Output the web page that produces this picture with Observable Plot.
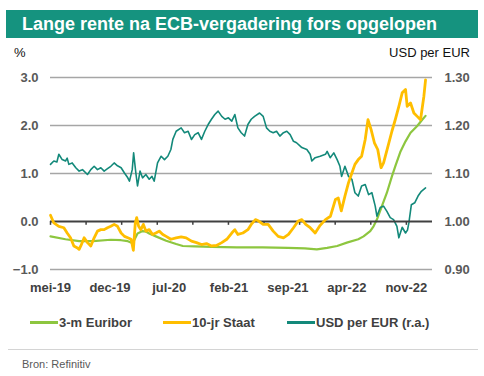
<!DOCTYPE html>
<html>
<head>
<meta charset="utf-8">
<script src="https://cdn.jsdelivr.net/npm/d3@7"></script>
<script src="https://cdn.jsdelivr.net/npm/@observablehq/plot@0.6"></script>
<style>
  html, body { margin: 0; padding: 0; background: #fff; }
  body { width: 484px; height: 376px; position: relative; overflow: hidden;
         font-family: "Liberation Sans", Arial, sans-serif; }
  #title { position: absolute; left: 6px; top: 10px; width: 472px; height: 28px;
           background: #15937f; color: #fff; font-weight: bold; font-size: 18px;
           line-height: 28px; box-sizing: border-box; padding-left: 16px; }
  .unit { position: absolute; top: 45px; font-size: 13px; color: #111; }
  #chart { position: absolute; left: 0; top: 60px; }
  #legend { position: absolute; top: 314px; left: 0; width: 484px; height: 18px; }
  .li { position: absolute; top: 0; font-size: 13px; font-weight: bold; color: #404040;
        line-height: 18px; white-space: nowrap; }
  .sw { display: inline-block; width: 28px; height: 3px; vertical-align: middle; margin-right: 1px; position: relative; top: -1px; }
  #sep { position: absolute; left: 8px; top: 349px; width: 470px; height: 1px; background: #d4d4d4; }
  #source { position: absolute; left: 22px; top: 358px; font-size: 11px; color: #595959; }
</style>
</head>
<body>
<div id="title">Lange rente na ECB-vergadering fors opgelopen</div>
<div class="unit" style="left:14px">%</div>
<div class="unit" style="right:14px">USD per EUR</div>
<div id="chart"></div>
<div id="legend"></div>
<div id="sep"></div>
<div id="source">Bron: Refinitiv</div>
<script>
// ---- data ----
const seriesNames = ["3-m Euribor", "10-jr Staat", "USD per EUR (r.a.)"];
const seriesColors = ["#8dc63f", "#ffbe00", "#13897a"];

const euribor = [
  ["2019-05-01",-0.31],["2019-06-24",-0.37],["2019-08-12",-0.41],["2019-10-01",-0.41],
  ["2019-12-04",-0.38],["2020-01-10",-0.39],["2020-02-03",-0.41],["2020-02-21",-0.45],
  ["2020-03-09",-0.25],["2020-03-27",-0.20],["2020-04-08",-0.21],["2020-04-20",-0.25],
  ["2020-05-14",-0.31],["2020-06-20",-0.40],["2020-07-26",-0.47],["2020-08-19",-0.51],
  ["2020-10-01",-0.52],["2020-12-01",-0.53],["2021-03-01",-0.54],["2021-06-01",-0.54],
  ["2021-09-01",-0.55],["2021-11-01",-0.56],["2021-12-14",-0.58],["2022-01-20",-0.55],
  ["2022-02-25",-0.51],["2022-04-01",-0.44],["2022-05-12",-0.37],["2022-05-31",-0.31],
  ["2022-06-24",-0.20],["2022-07-06",-0.10],["2022-07-18",0.04],["2022-08-05",0.32],
  ["2022-08-23",0.60],["2022-09-10",0.94],["2022-09-22",1.15],["2022-10-11",1.46],
  ["2022-10-29",1.67],["2022-11-16",1.85],["2022-12-10",1.99],["2022-12-28",2.12],
  ["2023-01-09",2.20]
];

const staat = [
  ["2019-05-01",0.13],["2019-05-13",-0.03],["2019-05-31",-0.10],["2019-06-18",-0.13],
  ["2019-06-30",-0.24],["2019-07-12",-0.34],["2019-07-24",-0.51],["2019-08-06",-0.55],
  ["2019-08-12",-0.58],["2019-08-18",-0.51],["2019-08-30",-0.34],["2019-09-11",-0.44],
  ["2019-09-23",-0.51],["2019-10-05",-0.34],["2019-10-17",-0.20],["2019-10-29",-0.17],
  ["2019-11-10",-0.17],["2019-11-22",-0.13],["2019-12-04",-0.10],["2019-12-16",-0.06],
  ["2019-12-28",-0.10],["2020-01-10",-0.24],["2020-01-22",-0.31],["2020-02-03",-0.34],
  ["2020-02-15",-0.37],["2020-02-23",-0.60],["2020-03-01",-0.03],["2020-03-06",0.08],
  ["2020-03-13",-0.10],["2020-03-21",-0.17],["2020-03-30",-0.06],["2020-04-08",-0.20],
  ["2020-04-20",-0.17],["2020-05-02",-0.27],["2020-05-14",-0.24],["2020-05-26",-0.20],
  ["2020-06-08",-0.27],["2020-06-20",-0.31],["2020-07-07",-0.37],["2020-07-26",-0.34],
  ["2020-08-13",-0.32],["2020-08-31",-0.34],["2020-09-19",-0.41],["2020-10-07",-0.44],
  ["2020-10-25",-0.48],["2020-11-12",-0.46],["2020-11-30",-0.51],["2020-12-18",-0.50],
  ["2021-01-06",-0.44],["2021-01-24",-0.37],["2021-02-11",-0.24],["2021-02-22",-0.17],
  ["2021-03-05",-0.27],["2021-03-23",-0.24],["2021-04-10",-0.17],["2021-04-22",-0.06],
  ["2021-05-07",0.04],["2021-05-19",0.01],["2021-06-04",-0.06],["2021-06-22",-0.06],
  ["2021-07-10",-0.20],["2021-07-28",-0.31],["2021-08-16",-0.34],["2021-09-03",-0.27],
  ["2021-09-21",-0.13],["2021-10-08",0.01],["2021-10-21",0.04],["2021-11-04",-0.06],
  ["2021-11-20",-0.13],["2021-12-08",-0.24],["2021-12-26",-0.08],["2022-01-14",0.04],
  ["2022-02-01",0.11],["2022-02-19",0.46],["2022-03-01",0.49],["2022-03-12",0.22],
  ["2022-03-25",0.53],["2022-04-07",0.81],["2022-04-19",1.01],["2022-04-30",1.19],
  ["2022-05-12",1.29],["2022-05-24",1.36],["2022-06-06",1.71],["2022-06-16",2.12],
  ["2022-06-27",1.92],["2022-07-09",1.64],["2022-07-21",1.50],["2022-08-02",1.12],
  ["2022-08-11",1.22],["2022-08-27",1.57],["2022-09-10",1.88],["2022-09-22",2.12],
  ["2022-10-05",2.40],["2022-10-17",2.68],["2022-10-29",2.75],["2022-11-04",2.40],
  ["2022-11-16",2.47],["2022-11-28",2.26],["2022-12-10",2.19],["2022-12-22",2.12],
  ["2023-01-03",2.61],["2023-01-09",2.95]
];

const usd = [
  ["2019-05-01",1.119],["2019-05-13",1.126],["2019-05-24",1.124],["2019-05-31",1.140],
  ["2019-06-12",1.129],["2019-06-24",1.126],["2019-06-30",1.132],["2019-07-06",1.119],
  ["2019-07-18",1.122],["2019-07-31",1.112],["2019-08-12",1.105],["2019-08-24",1.108],
  ["2019-09-11",1.098],["2019-09-23",1.108],["2019-10-05",1.115],["2019-10-17",1.108],
  ["2019-10-29",1.112],["2019-11-10",1.105],["2019-11-22",1.110],["2019-12-04",1.115],
  ["2019-12-16",1.122],["2019-12-28",1.116],["2020-01-10",1.112],["2020-01-22",1.101],
  ["2020-02-03",1.091],["2020-02-09",1.084],["2020-02-19",1.108],["2020-02-24",1.143],
  ["2020-03-03",1.101],["2020-03-09",1.074],["2020-03-18",1.105],["2020-03-27",1.091],
  ["2020-04-08",1.098],["2020-04-20",1.088],["2020-04-30",1.094],["2020-05-08",1.084],
  ["2020-05-20",1.122],["2020-06-02",1.136],["2020-06-14",1.129],["2020-06-26",1.136],
  ["2020-07-07",1.150],["2020-07-14",1.171],["2020-07-26",1.188],["2020-08-13",1.195],
  ["2020-08-25",1.185],["2020-09-07",1.188],["2020-09-19",1.171],["2020-10-01",1.181],
  ["2020-10-13",1.185],["2020-10-25",1.171],["2020-11-06",1.188],["2020-11-18",1.202],
  ["2020-11-30",1.213],["2020-12-12",1.223],["2020-12-24",1.230],["2021-01-06",1.219],
  ["2021-01-18",1.213],["2021-01-30",1.216],["2021-02-11",1.209],["2021-02-22",1.223],
  ["2021-03-05",1.195],["2021-03-17",1.185],["2021-03-29",1.178],["2021-04-10",1.202],
  ["2021-04-22",1.213],["2021-05-04",1.219],["2021-05-22",1.226],["2021-06-04",1.219],
  ["2021-06-16",1.195],["2021-06-28",1.188],["2021-07-10",1.185],["2021-07-22",1.188],
  ["2021-08-03",1.178],["2021-08-16",1.185],["2021-08-28",1.188],["2021-09-09",1.181],
  ["2021-09-21",1.167],["2021-10-02",1.164],["2021-10-21",1.154],["2021-11-08",1.150],
  ["2021-11-20",1.140],["2021-11-26",1.126],["2021-12-08",1.133],["2021-12-26",1.136],
  ["2022-01-14",1.140],["2022-01-20",1.146],["2022-01-31",1.133],["2022-02-13",1.143],
  ["2022-02-25",1.129],["2022-03-07",1.115],["2022-03-13",1.094],["2022-03-25",1.115],
  ["2022-04-07",1.094],["2022-04-19",1.088],["2022-04-30",1.060],["2022-05-12",1.053],
  ["2022-05-24",1.074],["2022-06-06",1.077],["2022-06-18",1.056],["2022-06-30",1.060],
  ["2022-07-12",1.032],["2022-07-18",1.011],["2022-07-30",1.029],["2022-08-11",1.032],
  ["2022-08-23",1.021],["2022-09-04",1.008],["2022-09-16",1.004],["2022-09-28",0.990],
  ["2022-10-05",0.966],["2022-10-17",0.988],["2022-10-29",0.976],["2022-11-05",0.982],
  ["2022-11-10",0.997],["2022-11-19",1.035],["2022-12-01",1.039],["2022-12-13",1.053],
  ["2022-12-25",1.063],["2023-01-09",1.070]
];

const leftTicks = [-1, 0, 1, 2, 3];
const rightTickLabels = ["0.90", "1.00", "1.10", "1.20", "1.30"];
const xLabelDates = ["2019-05-01","2019-12-01","2020-07-01","2021-02-01","2021-09-01","2022-04-01","2022-11-01"];
const xLabels = ["mei-19","dec-19","jul-20","feb-21","sep-21","apr-22","nov-22"];
const xTickStart = "2019-05-01";
const xTickStepDays = 128;
const xTickCount = 11;

// ---- build ----
const parse = s => new Date(s + "T00:00:00Z");
const toRows = (arr) => arr.map(([d, v]) => ({date: parse(d), value: v}));
const eurRows = toRows(euribor);
const staatRows = toRows(staat);
// right axis: 0.90..1.30 maps onto -1..3 of the left axis
const usdToLeft = v => (v - 1) * 10;
const usdRows = toRows(usd).map(r => ({date: r.date, value: usdToLeft(r.value)}));

const labelDates = xLabelDates.map(parse);
const labelMap = new Map(labelDates.map((d, i) => [+d, xLabels[i]]));
const tickDates = d3.range(xTickCount).map(k => d3.utcDay.offset(parse(xTickStart), k * xTickStepDays));

const chart = Plot.plot({
  width: 484,
  height: 239,
  marginLeft: 50,
  marginRight: 52,
  marginTop: 17,
  marginBottom: 30,
  style: {fontFamily: "'Liberation Sans', Arial, sans-serif", fontSize: "13px", background: "#fff", overflow: "visible"},
  x: {type: "utc", domain: [parse("2019-05-01"), parse("2023-02-03")]},
  y: {domain: [-1, 3]},
  marks: [
    Plot.gridY([-1, 1, 2, 3], {stroke: "#a6a6a6", strokeOpacity: 1, strokeWidth: 1.3}),
    Plot.axisY(leftTicks, {anchor: "left", tickSize: 0, tickPadding: 12, tickFormat: d3.format(".1f"),
      fill: "#595959", fontWeight: "bold", fontSize: 13, label: null}),
    Plot.axisY(leftTicks, {anchor: "right", tickSize: 0, tickPadding: 12,
      tickFormat: d => rightTickLabels[leftTicks.indexOf(d)],
      fill: "#595959", fontWeight: "bold", fontSize: 13, label: null}),
    Plot.axisX(labelDates, {anchor: "bottom", tickSize: 0, tickPadding: 13,
      tickFormat: d => labelMap.get(+d), fill: "#404040", fontWeight: "bold", fontSize: 13, label: null}),
    Plot.line(eurRows, {x: "date", y: "value", stroke: seriesColors[0], strokeWidth: 2.2}),
    Plot.line(usdRows, {x: "date", y: "value", stroke: seriesColors[2], strokeWidth: 1.6}),
    Plot.ruleY([0], {stroke: "#404040", strokeWidth: 2}),
    Plot.ruleX(tickDates, {x: d => d, y1: 0, y2: -0.08, stroke: "#404040", strokeWidth: 1.5}),
    Plot.line(staatRows, {x: "date", y: "value", stroke: seriesColors[1], strokeWidth: 2.8})
  ]
});
document.getElementById("chart").appendChild(chart);

// legend
const legendPos = [30, 163, 287];
const legend = document.getElementById("legend");
seriesNames.forEach((name, i) => {
  const item = document.createElement("div");
  item.className = "li";
  item.style.left = legendPos[i] + "px";
  const sw = document.createElement("span");
  sw.className = "sw";
  sw.style.background = seriesColors[i];
  item.appendChild(sw);
  item.appendChild(document.createTextNode(name));
  legend.appendChild(item);
});
</script>
</body>
</html>
